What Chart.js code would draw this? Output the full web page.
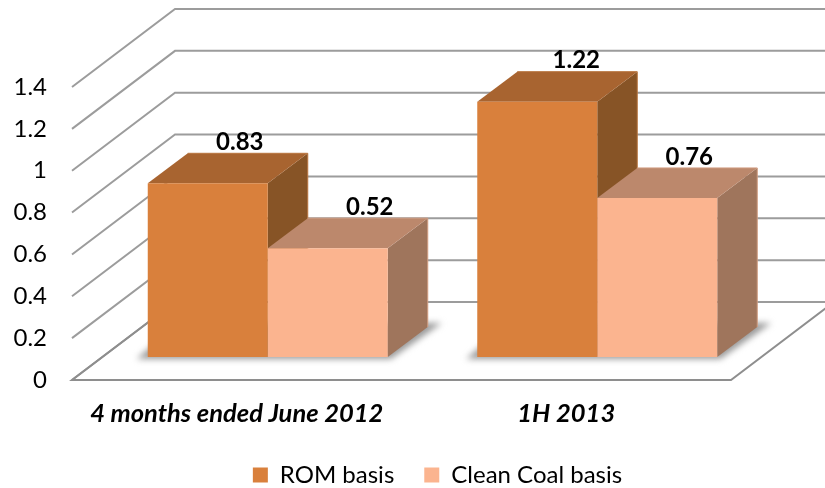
<!DOCTYPE html>
<html>
<head>
<meta charset="utf-8">
<script src="https://cdn.jsdelivr.net/npm/chart.js@4"></script>
<style>html,body{margin:0;padding:0;background:#fff}canvas{display:block}</style>
</head>
<body>
<canvas id="c" width="825" height="488"></canvas>
<script>
const categories = ['4 months ended June 2012', '1H 2013'];
const romBasis = [0.83, 1.22];
const cleanCoalBasis = [0.52, 0.76];
const seriesNames = ['ROM basis', 'Clean Coal basis'];
const yTicks = [0, 0.2, 0.4, 0.6, 0.8, 1, 1.2, 1.4];

const FONT = 'Lato, Carlito, sans-serif';
const AREA = {left: 72, right: 731, top: 87, bottom: 380};
const WALL = {dx: 103, dy: -78};     // depth of the floor
const PLANE = {dx: 31, dy: -23};     // bars stand part way back on the floor
const BAR = {dx: 40, dy: -30};       // depth of each bar
const FACES = [
  {front: '#D9803C', top: '#A86430', side: '#875426', edge: '#B9753F'},
  {front: '#FBB48F', top: '#BC886C', side: '#9F755C', edge: '#D09C80'}
];
const LABEL_NUDGE = [[32, 42], [39, 32]];

const scene = {
  id: 'scene',
  afterLayout(chart) {
    const l = chart.legend;
    l.left += 72; l.right += 72;
    l.top += 9; l.bottom += 9;
  },
  beforeDatasetsDraw(chart) {
    const {ctx, scales} = chart;
    const y = scales.y, x0 = AREA.left, x1 = AREA.right;
    ctx.save();
    ctx.strokeStyle = '#9C9C9C';
    ctx.lineWidth = 2;
    ctx.lineJoin = 'miter';
    yTicks.forEach(v => {
      const p = y.getPixelForValue(v);
      ctx.beginPath();
      ctx.moveTo(x0, p);
      ctx.lineTo(x0 + WALL.dx, p + WALL.dy);
      ctx.lineTo(x1 + WALL.dx, p + WALL.dy);
      ctx.stroke();
    });
    const p0 = y.getPixelForValue(0);
    ctx.strokeStyle = '#8E8E8E';
    ctx.lineWidth = 2;
    ctx.beginPath();
    ctx.moveTo(x0 + WALL.dx, p0 + WALL.dy);
    ctx.lineTo(x0, p0);
    ctx.lineTo(x1, p0);
    ctx.lineTo(x1 + WALL.dx, p0 + WALL.dy);
    ctx.stroke();
    ctx.restore();

    ctx.save();
    ctx.translate(PLANE.dx, PLANE.dy);
    const m0 = chart.getDatasetMeta(0).data, m1 = chart.getDatasetMeta(1).data;
    // soft floor shadow under each pair of bars
    ctx.save();
    ctx.filter = 'blur(3px)';
    ctx.fillStyle = '#9a9a9a';
    m0.forEach((el, i) => {
      const L = el.x - el.width / 2, R = m1[i].x + m1[i].width / 2, b = el.base;
      ctx.beginPath();
      ctx.moveTo(L - 11, b + 2);
      ctx.lineTo(R + 3, b + 2);
      ctx.lineTo(R + 54, b - 34);
      ctx.lineTo(L + 30, b - 34);
      ctx.closePath();
      ctx.fill();
    });
    ctx.restore();
    // top and side faces, back series painted over the front series' depth
    [m0, m1].forEach((els, s) => {
      els.forEach(el => {
        const L = el.x - el.width / 2, R = el.x + el.width / 2, T = el.y, B = el.base;
        const f = FACES[s];
        ctx.lineWidth = 1;
        ctx.strokeStyle = f.edge;
        ctx.fillStyle = f.side;
        ctx.beginPath();
        ctx.moveTo(R, T);
        ctx.lineTo(R + BAR.dx, T + BAR.dy);
        ctx.lineTo(R + BAR.dx, B + BAR.dy);
        ctx.lineTo(R, B);
        ctx.closePath();
        ctx.fill();
        ctx.fillStyle = f.top;
        ctx.beginPath();
        ctx.moveTo(L, T);
        ctx.lineTo(L + BAR.dx, T + BAR.dy);
        ctx.lineTo(R + BAR.dx, T + BAR.dy);
        ctx.lineTo(R, T);
        ctx.closePath();
        ctx.fill();
        ctx.beginPath();
        ctx.moveTo(L + BAR.dx, T + BAR.dy);
        ctx.lineTo(R + BAR.dx, T + BAR.dy);
        ctx.lineTo(R + BAR.dx, B + BAR.dy);
        ctx.stroke();
      });
    });
    // front faces are drawn by Chart.js inside this translated context
  },
  afterDatasetsDraw(chart) {
    const {ctx, data} = chart;
    ctx.restore();
    ctx.save();
    ctx.fillStyle = '#000';
    ctx.font = 'bold 24px ' + FONT;
    ctx.textAlign = 'center';
    ctx.textBaseline = 'middle';
    data.labels.forEach((_, i) => {
      [0, 1].forEach(s => {
        const el = chart.getDatasetMeta(s).data[i];
        const v = data.datasets[s].data[i];
        ctx.fillText(String(v), el.x + PLANE.dx + LABEL_NUDGE[i][s], el.y + PLANE.dy - 41);
      });
    });
    ctx.restore();
  }
};

new Chart(document.getElementById('c'), {
  type: 'bar',
  data: {
    labels: categories,
    datasets: [
      {label: seriesNames[0], data: romBasis, backgroundColor: FACES[0].front, clip: false,
       categoryPercentage: 240 / 329.5, barPercentage: 1},
      {label: seriesNames[1], data: cleanCoalBasis, backgroundColor: FACES[1].front, clip: false,
       categoryPercentage: 240 / 329.5, barPercentage: 1}
    ]
  },
  options: {
    responsive: false,
    animation: false,
    events: [],
    layout: {padding: {left: 0, right: 825 - AREA.right, top: AREA.top, bottom: 0}},
    plugins: {
      title: {display: false},
      tooltip: {enabled: false},
      legend: {
        position: 'bottom',
        labels: {
          color: '#000',
          font: {family: FONT, size: 24},
          boxWidth: 15, boxHeight: 15,
          padding: 30
        }
      }
    },
    scales: {
      x: {
        type: 'category',
        afterFit(s) { s.height = 44; },
        grid: {display: false, drawTicks: false},
        border: {display: false},
        ticks: {
          autoSkip: false, maxRotation: 0, minRotation: 0, padding: 18,
          color: '#000',
          font: {family: FONT, size: 25.5, weight: 'bold', style: 'italic'}
        }
      },
      y: {
        type: 'linear',
        position: 'left',
        min: 0, max: 1.4,
        afterBuildTicks(s) { s.ticks = yTicks.map(v => ({value: v})); },
        afterFit(s) { s.width = AREA.left; },
        grid: {display: false, drawTicks: false},
        border: {display: false},
        ticks: {
          padding: 25,
          color: '#000',
          font: {family: FONT, size: 24},
          callback: v => String(v)
        }
      }
    }
  },
  plugins: [scene]
});
</script>
</body>
</html>
